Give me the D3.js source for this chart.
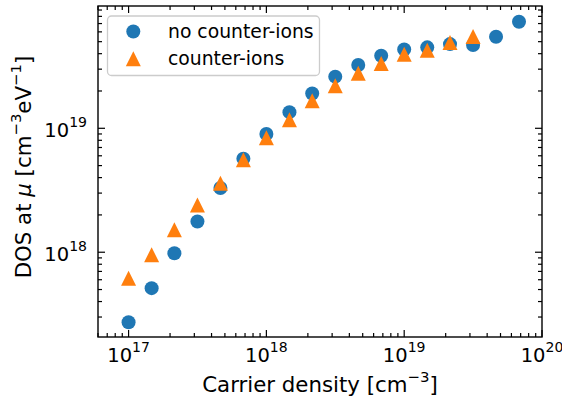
<!DOCTYPE html>
<html>
<head>
<meta charset="utf-8">
<script src="https://cdn.jsdelivr.net/npm/d3@7"></script>
<style>
  body { margin: 0; background: #fff; }
  text { font-family: "DejaVu Sans", sans-serif; fill: #000; }
</style>
</head>
<body>
<div id="chart"></div>
<script>
// carrier density [cm^-3], six points per decade
const density = [1.0e17, 1.47e17, 2.15e17, 3.16e17, 4.64e17, 6.81e17,
                 1.0e18, 1.47e18, 2.15e18, 3.16e18, 4.64e18, 6.81e18,
                 1.0e19, 1.47e19, 2.15e19, 3.16e19, 4.64e19, 6.81e19];
// DOS at mu [cm^-3 eV^-1]
const dosNoIons = [2.72e17, 5.13e17, 9.8e17, 1.77e18, 3.3e18, 5.69e18,
                   9.0e18, 1.35e19, 1.91e19, 2.61e19, 3.24e19, 3.85e19,
                   4.33e19, 4.5e19, 4.78e19, 4.7e19, 5.48e19, 7.24e19];
const dosIons = [6.17e17, 9.54e17, 1.52e18, 2.4e18, 3.6e18, 5.57e18,
                 8.4e18, 1.17e19, 1.67e19, 2.2e19, 2.78e19, 3.33e19,
                 3.96e19, 4.27e19, 4.92e19, 5.5e19];
const xTicks = [1e17, 1e18, 1e19, 1e20];
const yTicks = [1e18, 1e19];
const legendLabels = ["no counter-ions", "counter-ions"];

const W = 562, H = 404;
const pL = 98, pR = 542, pT = 6, pB = 337;
const blue = "#1f77b4", orange = "#ff7f0e";

const svg = d3.select("#chart").append("svg")
    .attr("width", W).attr("height", H);

const x = d3.scaleLog().domain([6.0e16, 1e20]).range([pL, pR]);
const y = d3.scaleLog().domain([2.07e17, 9.7e19]).range([pB, pT]);

function minors(scale) {
    const [a, b] = scale.domain();
    const out = [];
    for (let e = Math.floor(Math.log10(a)); e <= Math.ceil(Math.log10(b)); e++) {
        for (let m = 2; m <= 9; m++) {
            const v = m * Math.pow(10, e);
            if (v >= a && v <= b) out.push(v);
        }
    }
    return out;
}

// ticks inward on all four sides
const majLen = 7, minLen = 4, tickW = 1.2;
const ticks = svg.append("g").attr("stroke", "#000").attr("stroke-width", tickW);
function xTickMarks(vals, len) {
    vals.forEach(v => {
        ticks.append("line").attr("x1", x(v)).attr("x2", x(v)).attr("y1", pB).attr("y2", pB - len);
        ticks.append("line").attr("x1", x(v)).attr("x2", x(v)).attr("y1", pT).attr("y2", pT + len);
    });
}
function yTickMarks(vals, len) {
    vals.forEach(v => {
        ticks.append("line").attr("y1", y(v)).attr("y2", y(v)).attr("x1", pL).attr("x2", pL + len);
        ticks.append("line").attr("y1", y(v)).attr("y2", y(v)).attr("x1", pR).attr("x2", pR - len);
    });
}
xTickMarks(xTicks, majLen);
xTickMarks(minors(x), minLen);
yTickMarks(yTicks, majLen);
yTickMarks(minors(y), minLen);

// tick labels as 10^n
const tickFs = 19.5;
function powLabel(g, v) {
    const e = Math.round(Math.log10(v));
    g.append("tspan").text("10");
    g.append("tspan").attr("font-size", tickFs * 0.72).attr("dy", -0.5 * tickFs).text(e);
}
xTicks.forEach(v => {
    const t = svg.append("text").attr("x", x(v)).attr("y", 362)
        .attr("text-anchor", "middle").attr("font-size", tickFs);
    powLabel(t, v);
});
yTicks.forEach(v => {
    const t = svg.append("text").attr("x", 87).attr("y", y(v) + 8.4)
        .attr("text-anchor", "end").attr("font-size", tickFs);
    powLabel(t, v);
});

// matplotlib style '^': apex at top, centred on its box
function triPath(s) {
    return `M0,${-s}L${s},${s}L${-s},${s}Z`;
}

// data
svg.append("g").selectAll("circle").data(density.slice(0, dosNoIons.length))
    .join("circle")
    .attr("cx", d => x(d))
    .attr("cy", (d, i) => y(dosNoIons[i]))
    .attr("r", 7)
    .attr("fill", blue);

svg.append("g").selectAll("path").data(density.slice(0, dosIons.length))
    .join("path")
    .attr("d", triPath(7.5))
    .attr("transform", (d, i) => `translate(${x(d)},${y(dosIons[i])})`)
    .attr("fill", orange);

// frame
svg.append("rect")
    .attr("x", pL).attr("y", pT)
    .attr("width", pR - pL).attr("height", pB - pT)
    .attr("fill", "none").attr("stroke", "#000").attr("stroke-width", 1.4);

// legend
const lg = svg.append("g");
lg.append("rect")
    .attr("x", 107.5).attr("y", 16).attr("width", 212).attr("height", 59.5)
    .attr("rx", 4).attr("fill", "#fff").attr("fill-opacity", 0.8)
    .attr("stroke", "#cccccc").attr("stroke-width", 1.3);
lg.append("circle").attr("cx", 133.3).attr("cy", 31.5).attr("r", 7).attr("fill", blue);
lg.append("path").attr("d", triPath(7.5)).attr("transform", "translate(133.3,58.7)").attr("fill", orange);
const legFs = 18.8;
legendLabels.forEach((s, i) => {
    lg.append("text").attr("x", 168).attr("y", 31.5 + i * 27.2 + 6.6)
        .attr("font-size", legFs).text(s);
});

// axis labels
const labFs = 21.3;
const xl = svg.append("text").attr("x", (pL + pR) / 2).attr("y", 392)
    .attr("text-anchor", "middle").attr("font-size", labFs);
xl.append("tspan").text("Carrier density [cm");
xl.append("tspan").attr("font-size", labFs * 0.7).attr("dy", -0.45 * labFs).text("\u22123");
xl.append("tspan").attr("dy", 0.45 * labFs).text("]");

const yl = svg.append("text")
    .attr("transform", "translate(31,167) rotate(-90)")
    .attr("text-anchor", "middle").attr("font-size", labFs);
yl.append("tspan").text("DOS at ");
yl.append("tspan").attr("font-style", "italic").text("\u03bc");
yl.append("tspan").text(" [cm");
yl.append("tspan").attr("font-size", labFs * 0.7).attr("dy", -0.45 * labFs).text("\u22123");
yl.append("tspan").attr("dy", 0.45 * labFs).text("eV");
yl.append("tspan").attr("font-size", labFs * 0.7).attr("dy", -0.45 * labFs).text("\u22121");
yl.append("tspan").attr("dy", 0.45 * labFs).text("]");
</script>
</body>
</html>
